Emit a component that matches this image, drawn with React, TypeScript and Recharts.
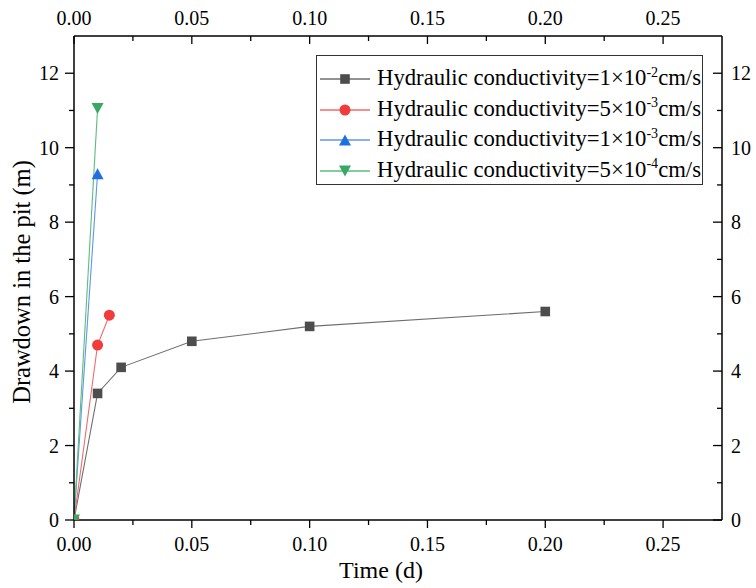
import React from "react";
import { LineChart, Line, XAxis, YAxis, Legend } from "recharts";

const timeK1 = [0, 0.01, 0.02, 0.05, 0.1, 0.2];
const drawdownK1 = [0, 3.4, 4.1, 4.8, 5.2, 5.6];
const timeK2 = [0, 0.01, 0.015];
const drawdownK2 = [0, 4.7, 5.5];
const timeK3 = [0, 0.01];
const drawdownK3 = [0, 9.3];
const timeK4 = [0, 0.01];
const drawdownK4 = [0, 11.05];

const xMajorTicks = [0, 0.05, 0.1, 0.15, 0.2, 0.25];
const xMinorTicks = [0.025, 0.075, 0.125, 0.175, 0.225];
const yMajorTicks = [0, 2, 4, 6, 8, 10, 12];
const yMinorTicks = [1, 3, 5, 7, 9, 11];

const seriesNames = [
  { base: "1", exp: "-2" },
  { base: "5", exp: "-3" },
  { base: "1", exp: "-3" },
  { base: "5", exp: "-4" },
];

const FONT = "'Liberation Serif', 'Times New Roman', serif";

const zip = (xs: number[], ys: number[]) => xs.map((x, i) => ({ x, y: ys[i] }));

const series = [
  { key: "k1", data: zip(timeK1, drawdownK1), marker: "#4d4d4d", line: "#6e6e6e", shape: "square" },
  { key: "k2", data: zip(timeK2, drawdownK2), marker: "#f03c3c", line: "#f06a6a", shape: "circle" },
  { key: "k3", data: zip(timeK3, drawdownK3), marker: "#1f6fe0", line: "#5f96e8", shape: "up" },
  { key: "k4", data: zip(timeK4, drawdownK4), marker: "#3aa865", line: "#5cbd80", shape: "down" },
];

const isIn = (arr: number[], v: number) => arr.some((a) => Math.abs(a - v) < 1e-9);

function MarkerShape({ shape, cx, cy, fill }: any) {
  if (shape === "square") {
    return <rect x={cx - 4.8} y={cy - 4.8} width={9.6} height={9.6} fill={fill} />;
  }
  if (shape === "circle") {
    return <circle cx={cx} cy={cy} r={5.5} fill={fill} />;
  }
  if (shape === "up") {
    return <polygon points={`${cx - 6},${cy + 5.5} ${cx + 6},${cy + 5.5} ${cx},${cy - 5.5}`} fill={fill} />;
  }
  return <polygon points={`${cx - 6},${cy - 5.5} ${cx + 6},${cy - 5.5} ${cx},${cy + 5.5}`} fill={fill} />;
}

const tickStroke = "#000";
const tickW = 1.3;

function BottomTick(props: any) {
  const { x, y, payload } = props;
  const major = isIn(xMajorTicks, payload.value);
  return (
    <g>
      <line x1={x} y1={y} x2={x} y2={y + (major ? 8 : 5)} stroke={tickStroke} strokeWidth={tickW} />
      {major && (
        <text x={x} y={y + 31} textAnchor="middle" fontFamily={FONT} fontSize={20} fill="#000">
          {payload.value.toFixed(2)}
        </text>
      )}
    </g>
  );
}

function TopTick(props: any) {
  const { x, y, payload } = props;
  const major = isIn(xMajorTicks, payload.value);
  return (
    <g>
      <line x1={x} y1={y} x2={x} y2={y + (major ? 8 : 5)} stroke={tickStroke} strokeWidth={tickW} />
      {major && (
        <text x={x} y={y - 11} textAnchor="middle" fontFamily={FONT} fontSize={20} fill="#000">
          {payload.value.toFixed(2)}
        </text>
      )}
    </g>
  );
}

function LeftTick(props: any) {
  const { x, y, payload } = props;
  const major = isIn(yMajorTicks, payload.value);
  return (
    <g>
      <line x1={x} y1={y} x2={x - (major ? 9 : 5)} y2={y} stroke={tickStroke} strokeWidth={tickW} />
      {major && (
        <text x={x - 15} y={y + 7} textAnchor="end" fontFamily={FONT} fontSize={20} fill="#000">
          {String(payload.value)}
        </text>
      )}
    </g>
  );
}

function RightTick(props: any) {
  const { x, y, payload } = props;
  const major = isIn(yMajorTicks, payload.value);
  return (
    <g>
      <line x1={x} y1={y} x2={x - (major ? 9 : 5)} y2={y} stroke={tickStroke} strokeWidth={tickW} />
      {major && (
        <text x={x + 9} y={y + 7} textAnchor="start" fontFamily={FONT} fontSize={20} fill="#000">
          {String(payload.value)}
        </text>
      )}
    </g>
  );
}

const XTitle = (props: any) => {
  const vb = props.viewBox || {};
  return (
    <text x={vb.x + vb.width / 2 - 17} y={vb.y + 58} textAnchor="middle" fontFamily={FONT} fontSize={24} fill="#000">
      Time (d)
    </text>
  );
};

const YTitle = (props: any) => {
  const vb = props.viewBox || {};
  const cx = vb.x + 16;
  const cy = vb.y + vb.height / 2 + 4;
  return (
    <text
      x={cx}
      y={cy}
      transform={`rotate(-90, ${cx}, ${cy})`}
      textAnchor="middle"
      fontFamily={FONT}
      fontSize={24.5}
      fill="#000"
    >
      Drawdown in the pit (m)
    </text>
  );
};

const renderLegend = () => (
  <div
    style={{
      width: 387,
      height: 130,
      boxSizing: "border-box",
      border: "1px solid #333",
      background: "#fff",
      paddingTop: 8,
      fontFamily: FONT,
      fontSize: 22.7,
      color: "#000",
    }}
  >
    {series.map((s, i) => (
      <div key={s.key} style={{ display: "flex", alignItems: "center", height: 30.5, whiteSpace: "nowrap" }}>
        <svg width={56} height={20} style={{ display: "block", flex: "none" }}>
          <line x1={3} y1={10} x2={53} y2={10} stroke={s.line} strokeWidth={1.3} />
          <MarkerShape shape={s.shape} cx={28} cy={10} fill={s.marker} />
        </svg>
        <span style={{ marginLeft: 4, lineHeight: "30.5px" }}>
          Hydraulic conductivity={seriesNames[i].base}×10
          <span style={{ fontSize: "0.62em", position: "relative", top: "-0.6em" }}>{seriesNames[i].exp}</span>
          cm/s
        </span>
      </div>
    ))}
  </div>
);

export default function App() {
  return (
    <div style={{ position: "absolute", left: 0, top: 0, width: 756, height: 588, background: "#fff" }}>
      <LineChart width={756} height={588} margin={{ top: 6, right: 4, bottom: 28, left: 14 }}>
        <XAxis
          xAxisId="bottom"
          dataKey="x"
          type="number"
          orientation="bottom"
          domain={[0, 0.275]}
          allowDataOverflow
          ticks={[...xMajorTicks, ...xMinorTicks]}
          interval={0}
          tickSize={0}
          tickMargin={0}
          tickLine={false}
          tick={<BottomTick />}
          axisLine={{ stroke: "#000", strokeWidth: 1.5 }}
          height={40}
          label={<XTitle />}
        />
        <XAxis
          xAxisId="top"
          dataKey="x"
          type="number"
          orientation="top"
          domain={[0, 0.275]}
          allowDataOverflow
          ticks={[...xMajorTicks, ...xMinorTicks]}
          interval={0}
          tickSize={0}
          tickMargin={0}
          tickLine={false}
          tick={<TopTick />}
          axisLine={{ stroke: "#000", strokeWidth: 1.5 }}
          height={30}
        />
        <YAxis
          yAxisId="left"
          type="number"
          orientation="left"
          domain={[0, 13]}
          allowDataOverflow
          ticks={[...yMajorTicks, ...yMinorTicks]}
          interval={0}
          tickSize={0}
          tickMargin={0}
          tickLine={false}
          tick={<LeftTick />}
          axisLine={{ stroke: "#000", strokeWidth: 1.5 }}
          width={60}
          label={<YTitle />}
        />
        <YAxis
          yAxisId="right"
          type="number"
          orientation="right"
          domain={[0, 13]}
          allowDataOverflow
          ticks={[...yMajorTicks, ...yMinorTicks]}
          interval={0}
          tickSize={0}
          tickMargin={0}
          tickLine={false}
          tick={<RightTick />}
          axisLine={{ stroke: "#000", strokeWidth: 1.5 }}
          width={30}
        />
        <Legend
          layout="vertical"
          align="center"
          verticalAlign="middle"
          content={renderLegend}
          wrapperStyle={{ left: 316, top: 55, width: 387, height: 130 }}
        />
        {series.map((s) => (
          <Line
            key={s.key}
            xAxisId="bottom"
            yAxisId="left"
            data={s.data}
            dataKey="y"
            type="linear"
            stroke={s.line}
            strokeWidth={1.1}
            isAnimationActive={false}
            dot={(p: any) => <MarkerShape key={`${s.key}-${p.index}`} shape={s.shape} cx={p.cx} cy={p.cy} fill={s.marker} />}
            activeDot={false}
            legendType="none"
          />
        ))}
      </LineChart>
    </div>
  );
}
